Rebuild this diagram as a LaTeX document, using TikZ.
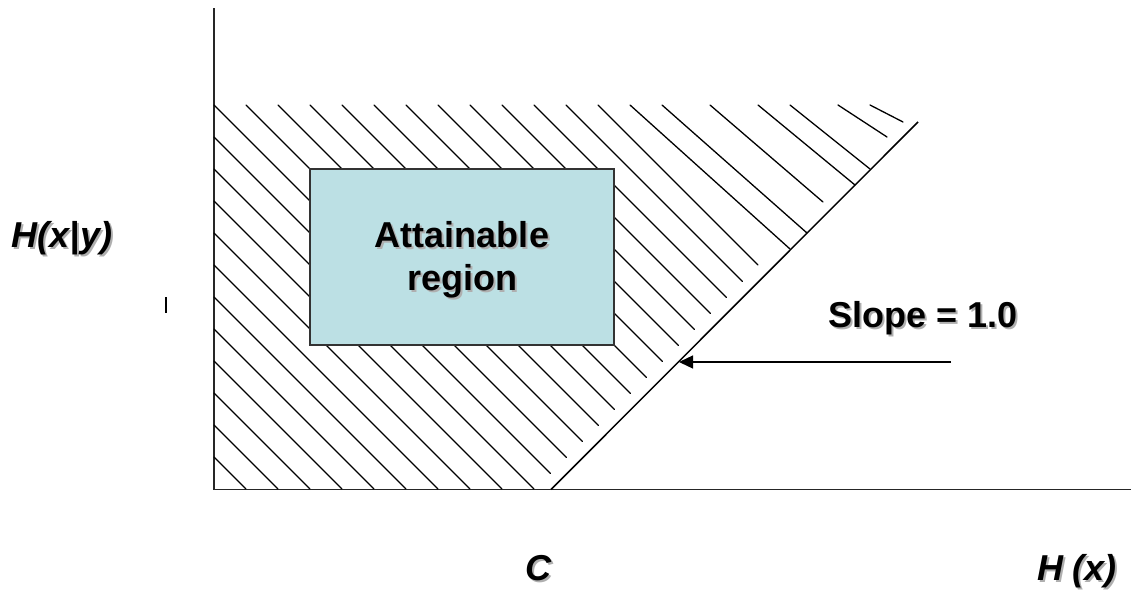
\documentclass[tikz,border=0pt]{standalone}
\usepackage{fontspec}
\setmainfont{Liberation Sans}
\usetikzlibrary{arrows.meta}
\definecolor{regionfill}{RGB}{188,224,228}
\definecolor{shadowgray}{RGB}{175,175,175}
% text with a soft grey drop shadow
\newcommand\shadowed[1]{\rlap{\kern2pt\raisebox{-2pt}{\textcolor{shadowgray}{#1}}}#1}

\begin{document}
\begin{tikzpicture}[x=1pt,y=-1pt,
  axis/.style={line width=1.8pt, black!85},
  hatch/.style={line width=1.3pt, line cap=round},
  bigfont/.style={font=\fontsize{36}{43}\selectfont\bfseries},
  label/.style={bigfont, inner sep=0pt, anchor=base},
  ilabel/.style={label, font=\fontsize{36}{43}\selectfont\bfseries\itshape},
  regionbox/.style={draw=black!80, line width=1.5pt, fill=regionfill,
    minimum width=304pt, minimum height=176pt, inner sep=0pt,
    align=center, bigfont},
  pointer/.style={line width=1.3pt, -{Triangle[length=14pt,width=13pt]}}
]
\useasboundingbox (0,0) rectangle (1132,589);

% axes and the slope-1 boundary
\coordinate (O) at (214,489.5);
\coordinate (ytop) at (214,8);
\coordinate (xend) at (1131,489.5);
\coordinate (d0) at (551,489.5);
\coordinate (d1) at (918,122);
\draw[axis] (ytop) -- (O) -- (xend);

% hatching: slope-1 strokes from the left edge down to the baseline
\foreach \j in {2,...,11}
  \draw[hatch] (214,105+32*\j) -- ({598-32*\j},489);
% slope-1 strokes stopping just short of the boundary (x+y = 1024)
\draw[hatch] (214,137) -- (550.5,473.5);
\foreach \x in {214,246,...,566}{
  \pgfmathsetmacro\t{(919-\x)/2}
  \draw[hatch] (\x,105) -- (\x+\t,105+\t);
}
% strokes near the upper corner, flattening out
\foreach \a/\b/\c/\d in {598/105/758/265, 630/105/790/249, 662/105/807/233,
    710/105/823/202, 758/105/855/185, 790/105/870/169, 838/105/887/137,
    870/105/903/122}
  \draw[hatch] (\a,\b) -- (\c,\d);

\draw[axis, line width=1.5pt, black] (d0) -- (d1);

% attainable region box (the strut lowers the two lines a little)
\node[regionbox] (region) at (462,257)
  {\rule{0pt}{34pt}\shadowed{Attainable}\\\shadowed{region}};

% labels
\node[ilabel] (hxy) at (62,247) {\shadowed{H(x|y)}};
\coordinate (tickA) at (166,297);
\coordinate (tickB) at (166,313);
\draw[line width=1.2pt] (tickA) -- (tickB);
\node[label] (slope) at (923,327) {\shadowed{Slope = 1.0}};
\node[ilabel] (cap) at (538,580) {\shadowed{C}};
\node[ilabel] (hx) at (1077,580) {\shadowed{H (x)}};

% pointer to the boundary line
\coordinate (arrowstart) at (951,362);
\coordinate (hit) at (679,362);
\draw[pointer] (arrowstart) -- (hit);
\end{tikzpicture}
\end{document}
